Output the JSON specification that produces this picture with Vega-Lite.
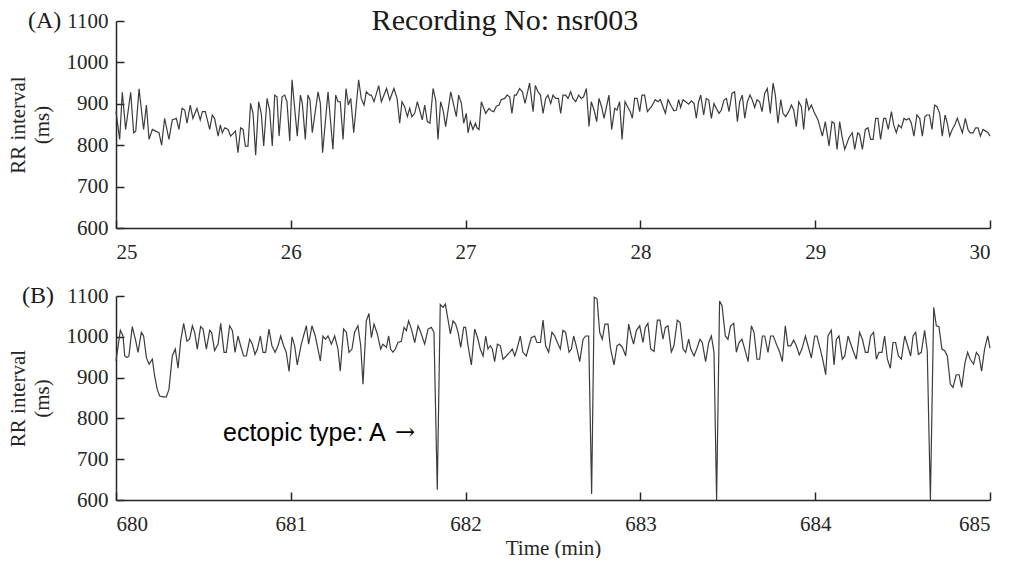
{
"$schema": "https://vega.github.io/schema/vega-lite/v6.json",
"background": "white",
"padding": {"left": 7, "top": 6, "right": 0, "bottom": 0},
"bounds": "flush",
"spacing": 68,
"config": {
  "view": {"stroke": null},
  "font": "Liberation Serif",
  "axis": {"grid": false, "domainColor": "#262626", "domainWidth": 1.5, "tickColor": "#262626", "tickWidth": 1.5, "tickSize": -8, "labelFont": "Liberation Serif", "labelFontSize": 21, "labelColor": "#262626", "titleFont": "Liberation Serif", "titleFontSize": 21, "titleFontWeight": "normal", "titleColor": "#262626"},
  "axisX": {"labelPadding": 21},
  "axisY": {"labelPadding": 16}
},
"datasets": {
"a": [
{"t":25.000,"rr":881},{"t":25.021,"rr":814},{"t":25.036,"rr":928},{"t":25.055,"rr":838},{"t":25.084,"rr":928},{"t":25.101,"rr":830},{"t":25.113,"rr":834},{"t":25.132,"rr":936},{"t":25.158,"rr":838},{"t":25.174,"rr":897},{"t":25.189,"rr":814},{"t":25.208,"rr":838},{"t":25.227,"rr":834},{"t":25.246,"rr":830},{"t":25.261,"rr":800},{"t":25.278,"rr":865},{"t":25.303,"rr":814},{"t":25.322,"rr":861},{"t":25.345,"rr":865},{"t":25.360,"rr":838},{"t":25.378,"rr":889},{"t":25.393,"rr":885},{"t":25.406,"rr":853},{"t":25.425,"rr":897},{"t":25.440,"rr":865},{"t":25.463,"rr":889},{"t":25.482,"rr":861},{"t":25.494,"rr":881},{"t":25.511,"rr":881},{"t":25.536,"rr":838},{"t":25.551,"rr":873},{"t":25.564,"rr":865},{"t":25.584,"rr":822},{"t":25.597,"rr":849},{"t":25.608,"rr":830},{"t":25.622,"rr":842},{"t":25.641,"rr":838},{"t":25.656,"rr":822},{"t":25.683,"rr":834},{"t":25.698,"rr":782},{"t":25.713,"rr":842},{"t":25.727,"rr":838},{"t":25.740,"rr":798},{"t":25.755,"rr":798},{"t":25.770,"rr":901},{"t":25.784,"rr":877},{"t":25.799,"rr":776},{"t":25.816,"rr":905},{"t":25.831,"rr":877},{"t":25.845,"rr":798},{"t":25.864,"rr":913},{"t":25.879,"rr":885},{"t":25.894,"rr":798},{"t":25.908,"rr":921},{"t":25.921,"rr":917},{"t":25.933,"rr":822},{"t":25.950,"rr":917},{"t":25.965,"rr":921},{"t":25.978,"rr":905},{"t":25.994,"rr":810},
{"t":26.007,"rr":958},{"t":26.037,"rr":822},{"t":26.055,"rr":921},{"t":26.066,"rr":901},{"t":26.083,"rr":814},{"t":26.098,"rr":921},{"t":26.110,"rr":909},{"t":26.123,"rr":830},{"t":26.156,"rr":929},{"t":26.169,"rr":901},{"t":26.182,"rr":782},{"t":26.213,"rr":929},{"t":26.241,"rr":790},{"t":26.257,"rr":921},{"t":26.270,"rr":905},{"t":26.283,"rr":905},{"t":26.299,"rr":814},{"t":26.316,"rr":937},{"t":26.329,"rr":897},{"t":26.343,"rr":913},{"t":26.360,"rr":830},{"t":26.388,"rr":958},{"t":26.403,"rr":913},{"t":26.419,"rr":897},{"t":26.432,"rr":929},{"t":26.451,"rr":921},{"t":26.461,"rr":921},{"t":26.476,"rr":905},{"t":26.503,"rr":944},{"t":26.518,"rr":905},{"t":26.548,"rr":937},{"t":26.566,"rr":909},{"t":26.590,"rr":937},{"t":26.608,"rr":913},{"t":26.623,"rr":853},{"t":26.636,"rr":905},{"t":26.651,"rr":893},{"t":26.667,"rr":869},{"t":26.680,"rr":889},{"t":26.693,"rr":869},{"t":26.709,"rr":877},{"t":26.724,"rr":905},{"t":26.737,"rr":885},{"t":26.752,"rr":861},{"t":26.766,"rr":897},{"t":26.781,"rr":857},{"t":26.796,"rr":853},{"t":26.814,"rr":937},{"t":26.829,"rr":909},{"t":26.842,"rr":814},{"t":26.857,"rr":905},{"t":26.871,"rr":885},{"t":26.886,"rr":845},{"t":26.915,"rr":929},{"t":26.947,"rr":869},{"t":26.960,"rr":921},{"t":26.976,"rr":901},{"t":26.989,"rr":853},{"t":27.004,"rr":877},
{"t":27.014,"rr":830},{"t":27.027,"rr":857},{"t":27.042,"rr":838},{"t":27.056,"rr":853},{"t":27.065,"rr":842},{"t":27.077,"rr":838},{"t":27.090,"rr":905},{"t":27.115,"rr":877},{"t":27.134,"rr":889},{"t":27.147,"rr":883},{"t":27.161,"rr":881},{"t":27.176,"rr":894},{"t":27.191,"rr":897},{"t":27.204,"rr":910},{"t":27.224,"rr":913},{"t":27.237,"rr":921},{"t":27.252,"rr":917},{"t":27.265,"rr":877},{"t":27.279,"rr":921},{"t":27.290,"rr":921},{"t":27.309,"rr":937},{"t":27.325,"rr":929},{"t":27.340,"rr":901},{"t":27.366,"rr":950},{"t":27.386,"rr":881},{"t":27.399,"rr":944},{"t":27.414,"rr":929},{"t":27.428,"rr":921},{"t":27.443,"rr":877},{"t":27.458,"rr":913},{"t":27.471,"rr":921},{"t":27.487,"rr":901},{"t":27.500,"rr":921},{"t":27.515,"rr":913},{"t":27.531,"rr":913},{"t":27.544,"rr":877},{"t":27.557,"rr":921},{"t":27.572,"rr":921},{"t":27.586,"rr":913},{"t":27.601,"rr":929},{"t":27.614,"rr":913},{"t":27.630,"rr":905},{"t":27.647,"rr":921},{"t":27.662,"rr":913},{"t":27.675,"rr":917},{"t":27.691,"rr":937},{"t":27.706,"rr":845},{"t":27.719,"rr":905},{"t":27.735,"rr":885},{"t":27.750,"rr":857},{"t":27.763,"rr":913},{"t":27.778,"rr":893},{"t":27.792,"rr":865},{"t":27.820,"rr":921},{"t":27.836,"rr":838},{"t":27.853,"rr":889},{"t":27.866,"rr":885},{"t":27.881,"rr":905},{"t":27.895,"rr":814},{"t":27.912,"rr":905},{"t":27.927,"rr":893},{"t":27.942,"rr":881},{"t":27.954,"rr":865},{"t":27.967,"rr":913},{"t":27.981,"rr":913},{"t":27.996,"rr":881},
{"t":28.009,"rr":921},{"t":28.024,"rr":921},{"t":28.040,"rr":881},{"t":28.063,"rr":893},{"t":28.085,"rr":910},{"t":28.101,"rr":905},{"t":28.114,"rr":910},{"t":28.129,"rr":893},{"t":28.143,"rr":877},{"t":28.158,"rr":910},{"t":28.177,"rr":894},{"t":28.192,"rr":883},{"t":28.206,"rr":885},{"t":28.219,"rr":910},{"t":28.230,"rr":891},{"t":28.244,"rr":910},{"t":28.259,"rr":905},{"t":28.276,"rr":899},{"t":28.291,"rr":907},{"t":28.307,"rr":901},{"t":28.320,"rr":865},{"t":28.333,"rr":905},{"t":28.345,"rr":921},{"t":28.362,"rr":873},{"t":28.377,"rr":913},{"t":28.391,"rr":909},{"t":28.406,"rr":865},{"t":28.421,"rr":901},{"t":28.434,"rr":889},{"t":28.450,"rr":877},{"t":28.463,"rr":885},{"t":28.478,"rr":909},{"t":28.492,"rr":913},{"t":28.507,"rr":881},{"t":28.524,"rr":925},{"t":28.539,"rr":929},{"t":28.555,"rr":857},{"t":28.568,"rr":905},{"t":28.583,"rr":921},{"t":28.597,"rr":865},{"t":28.612,"rr":905},{"t":28.627,"rr":921},{"t":28.640,"rr":909},{"t":28.654,"rr":891},{"t":28.667,"rr":910},{"t":28.682,"rr":905},{"t":28.696,"rr":881},{"t":28.711,"rr":925},{"t":28.726,"rr":937},{"t":28.743,"rr":877},{"t":28.759,"rr":950},{"t":28.772,"rr":921},{"t":28.787,"rr":853},{"t":28.803,"rr":910},{"t":28.816,"rr":877},{"t":28.831,"rr":869},{"t":28.848,"rr":881},{"t":28.864,"rr":897},{"t":28.877,"rr":885},{"t":28.892,"rr":845},{"t":28.906,"rr":905},{"t":28.921,"rr":893},{"t":28.934,"rr":838},{"t":28.949,"rr":913},{"t":28.964,"rr":885},{"t":28.978,"rr":897},{"t":28.993,"rr":881},{"t":29.016,"rr":861},
{"t":29.041,"rr":822},{"t":29.058,"rr":857},{"t":29.079,"rr":798},{"t":29.096,"rr":857},{"t":29.109,"rr":853},{"t":29.125,"rr":790},{"t":29.140,"rr":857},{"t":29.153,"rr":822},{"t":29.169,"rr":790},{"t":29.193,"rr":818},{"t":29.212,"rr":830},{"t":29.226,"rr":790},{"t":29.243,"rr":830},{"t":29.254,"rr":826},{"t":29.270,"rr":790},{"t":29.287,"rr":838},{"t":29.302,"rr":842},{"t":29.317,"rr":814},{"t":29.331,"rr":814},{"t":29.346,"rr":865},{"t":29.359,"rr":865},{"t":29.374,"rr":814},{"t":29.392,"rr":865},{"t":29.403,"rr":865},{"t":29.418,"rr":838},{"t":29.436,"rr":881},{"t":29.449,"rr":849},{"t":29.464,"rr":830},{"t":29.477,"rr":849},{"t":29.493,"rr":842},{"t":29.508,"rr":865},{"t":29.521,"rr":861},{"t":29.537,"rr":865},{"t":29.550,"rr":853},{"t":29.565,"rr":822},{"t":29.582,"rr":873},{"t":29.598,"rr":865},{"t":29.613,"rr":822},{"t":29.628,"rr":869},{"t":29.639,"rr":873},{"t":29.654,"rr":873},{"t":29.668,"rr":838},{"t":29.683,"rr":897},{"t":29.697,"rr":893},{"t":29.712,"rr":877},{"t":29.727,"rr":822},{"t":29.743,"rr":873},{"t":29.756,"rr":853},{"t":29.769,"rr":822},{"t":29.784,"rr":838},{"t":29.798,"rr":849},{"t":29.813,"rr":865},{"t":29.826,"rr":849},{"t":29.842,"rr":830},{"t":29.859,"rr":865},{"t":29.874,"rr":838},{"t":29.887,"rr":830},{"t":29.903,"rr":830},{"t":29.918,"rr":842},{"t":29.931,"rr":842},{"t":29.945,"rr":822},{"t":29.960,"rr":838},{"t":29.975,"rr":834},{"t":29.989,"rr":830},{"t":30.000,"rr":822}
],
"b": [
{"t":680.000,"rr":941},{"t":680.025,"rr":1016},{"t":680.040,"rr":1002},{"t":680.050,"rr":953},{"t":680.063,"rr":949},{"t":680.074,"rr":953},{"t":680.093,"rr":1025},{"t":680.113,"rr":990},{"t":680.126,"rr":962},{"t":680.145,"rr":1011},{"t":680.158,"rr":1002},{"t":680.174,"rr":949},{"t":680.189,"rr":933},{"t":680.208,"rr":945},{"t":680.221,"rr":904},{"t":680.236,"rr":871},{"t":680.250,"rr":855},{"t":680.269,"rr":853},{"t":680.288,"rr":853},{"t":680.303,"rr":871},{"t":680.322,"rr":953},{"t":680.339,"rr":970},{"t":680.355,"rr":923},{"t":680.370,"rr":990},{"t":680.387,"rr":1033},{"t":680.406,"rr":989},{"t":680.421,"rr":994},{"t":680.437,"rr":1027},{"t":680.450,"rr":1011},{"t":680.465,"rr":970},{"t":680.484,"rr":1025},{"t":680.498,"rr":1019},{"t":680.517,"rr":970},{"t":680.536,"rr":1016},{"t":680.547,"rr":1011},{"t":680.564,"rr":966},{"t":680.584,"rr":982},{"t":680.599,"rr":1033},{"t":680.618,"rr":962},{"t":680.631,"rr":962},{"t":680.650,"rr":1027},{"t":680.666,"rr":1015},{"t":680.681,"rr":962},{"t":680.698,"rr":1002},{"t":680.713,"rr":978},{"t":680.730,"rr":953},{"t":680.746,"rr":953},{"t":680.765,"rr":994},{"t":680.780,"rr":982},{"t":680.795,"rr":957},{"t":680.809,"rr":970},{"t":680.826,"rr":1002},{"t":680.841,"rr":962},{"t":680.856,"rr":962},{"t":680.875,"rr":1019},{"t":680.892,"rr":978},{"t":680.910,"rr":962},{"t":680.927,"rr":978},{"t":680.942,"rr":1002},{"t":680.959,"rr":978},{"t":680.974,"rr":962},{"t":680.990,"rr":915},{"t":681.007,"rr":1000},
{"t":681.022,"rr":978},{"t":681.037,"rr":931},{"t":681.060,"rr":982},{"t":681.089,"rr":1027},{"t":681.102,"rr":982},{"t":681.121,"rr":1027},{"t":681.140,"rr":1002},{"t":681.169,"rr":941},{"t":681.184,"rr":1002},{"t":681.198,"rr":994},{"t":681.213,"rr":1002},{"t":681.232,"rr":982},{"t":681.251,"rr":1002},{"t":681.270,"rr":970},{"t":681.283,"rr":916},{"t":681.302,"rr":1019},{"t":681.318,"rr":1011},{"t":681.333,"rr":962},{"t":681.350,"rr":970},{"t":681.365,"rr":1011},{"t":681.384,"rr":1027},{"t":681.400,"rr":978},{"t":681.413,"rr":884},{"t":681.432,"rr":1039},{"t":681.447,"rr":1057},{"t":681.461,"rr":998},{"t":681.476,"rr":1031},{"t":681.495,"rr":1007},{"t":681.514,"rr":970},{"t":681.527,"rr":982},{"t":681.547,"rr":974},{"t":681.560,"rr":1002},{"t":681.571,"rr":970},{"t":681.585,"rr":962},{"t":681.598,"rr":970},{"t":681.613,"rr":986},{"t":681.632,"rr":989},{"t":681.648,"rr":1023},{"t":681.661,"rr":1015},{"t":681.674,"rr":1039},{"t":681.690,"rr":1019},{"t":681.709,"rr":986},{"t":681.728,"rr":1027},{"t":681.743,"rr":1011},{"t":681.766,"rr":982},{"t":681.785,"rr":1019},{"t":681.804,"rr":1023},{"t":681.819,"rr":1011},{"t":681.838,"rr":625},{"t":681.855,"rr":1079},{"t":681.871,"rr":1072},{"t":681.884,"rr":1080},{"t":681.899,"rr":1043},{"t":681.913,"rr":1007},{"t":681.928,"rr":1039},{"t":681.943,"rr":1031},{"t":681.957,"rr":1011},{"t":681.972,"rr":974},{"t":681.989,"rr":1023},{"t":682.000,"rr":1023},
{"t":682.014,"rr":978},{"t":682.033,"rr":931},{"t":682.052,"rr":1019},{"t":682.071,"rr":994},{"t":682.084,"rr":970},{"t":682.100,"rr":953},{"t":682.115,"rr":1002},{"t":682.128,"rr":970},{"t":682.141,"rr":978},{"t":682.153,"rr":970},{"t":682.166,"rr":939},{"t":682.182,"rr":982},{"t":682.199,"rr":978},{"t":682.214,"rr":945},{"t":682.233,"rr":953},{"t":682.252,"rr":962},{"t":682.267,"rr":970},{"t":682.281,"rr":953},{"t":682.294,"rr":970},{"t":682.313,"rr":1002},{"t":682.328,"rr":962},{"t":682.347,"rr":953},{"t":682.363,"rr":978},{"t":682.376,"rr":998},{"t":682.395,"rr":1002},{"t":682.408,"rr":986},{"t":682.428,"rr":986},{"t":682.443,"rr":1041},{"t":682.458,"rr":978},{"t":682.475,"rr":962},{"t":682.494,"rr":1011},{"t":682.510,"rr":1002},{"t":682.525,"rr":986},{"t":682.542,"rr":970},{"t":682.557,"rr":1016},{"t":682.572,"rr":1011},{"t":682.592,"rr":962},{"t":682.605,"rr":970},{"t":682.618,"rr":1002},{"t":682.633,"rr":978},{"t":682.653,"rr":939},{"t":682.672,"rr":994},{"t":682.687,"rr":1002},{"t":682.704,"rr":1002},{"t":682.721,"rr":615},{"t":682.736,"rr":1097},{"t":682.752,"rr":1093},{"t":682.767,"rr":1011},{"t":682.782,"rr":994},{"t":682.797,"rr":1031},{"t":682.815,"rr":1031},{"t":682.828,"rr":974},{"t":682.849,"rr":931},{"t":682.866,"rr":978},{"t":682.881,"rr":982},{"t":682.897,"rr":974},{"t":682.916,"rr":953},{"t":682.933,"rr":1031},{"t":682.948,"rr":1002},{"t":682.961,"rr":982},{"t":682.977,"rr":1016},{"t":682.996,"rr":1027},{"t":683.015,"rr":986},
{"t":683.028,"rr":1023},{"t":683.043,"rr":1033},{"t":683.059,"rr":970},{"t":683.078,"rr":964},{"t":683.097,"rr":1041},{"t":683.112,"rr":1041},{"t":683.129,"rr":994},{"t":683.143,"rr":1023},{"t":683.158,"rr":1027},{"t":683.177,"rr":963},{"t":683.192,"rr":978},{"t":683.211,"rr":1041},{"t":683.227,"rr":1035},{"t":683.244,"rr":970},{"t":683.259,"rr":962},{"t":683.276,"rr":994},{"t":683.288,"rr":970},{"t":683.307,"rr":953},{"t":683.322,"rr":970},{"t":683.341,"rr":994},{"t":683.354,"rr":986},{"t":683.373,"rr":939},{"t":683.391,"rr":986},{"t":683.406,"rr":1002},{"t":683.421,"rr":962},{"t":683.436,"rr":600},{"t":683.453,"rr":1088},{"t":683.467,"rr":1076},{"t":683.486,"rr":1002},{"t":683.501,"rr":994},{"t":683.516,"rr":1027},{"t":683.534,"rr":1033},{"t":683.549,"rr":962},{"t":683.564,"rr":986},{"t":683.581,"rr":994},{"t":683.597,"rr":970},{"t":683.616,"rr":939},{"t":683.635,"rr":1027},{"t":683.650,"rr":1011},{"t":683.667,"rr":945},{"t":683.682,"rr":945},{"t":683.698,"rr":1002},{"t":683.711,"rr":1002},{"t":683.730,"rr":962},{"t":683.745,"rr":1002},{"t":683.760,"rr":1002},{"t":683.778,"rr":982},{"t":683.797,"rr":962},{"t":683.812,"rr":939},{"t":683.829,"rr":1027},{"t":683.844,"rr":978},{"t":683.860,"rr":978},{"t":683.877,"rr":992},{"t":683.892,"rr":978},{"t":683.909,"rr":956},{"t":683.924,"rr":970},{"t":683.944,"rr":1002},{"t":683.959,"rr":978},{"t":683.978,"rr":948},{"t":683.997,"rr":1002},
{"t":684.010,"rr":1002},{"t":684.029,"rr":970},{"t":684.045,"rr":941},{"t":684.060,"rr":907},{"t":684.073,"rr":1002},{"t":684.092,"rr":1016},{"t":684.108,"rr":931},{"t":684.121,"rr":994},{"t":684.136,"rr":1002},{"t":684.155,"rr":945},{"t":684.169,"rr":953},{"t":684.188,"rr":1002},{"t":684.207,"rr":978},{"t":684.220,"rr":962},{"t":684.235,"rr":945},{"t":684.254,"rr":1011},{"t":684.270,"rr":994},{"t":684.287,"rr":962},{"t":684.302,"rr":962},{"t":684.317,"rr":1002},{"t":684.334,"rr":1011},{"t":684.350,"rr":945},{"t":684.365,"rr":962},{"t":684.382,"rr":962},{"t":684.397,"rr":1002},{"t":684.413,"rr":945},{"t":684.430,"rr":923},{"t":684.445,"rr":986},{"t":684.460,"rr":986},{"t":684.476,"rr":953},{"t":684.493,"rr":945},{"t":684.512,"rr":1002},{"t":684.529,"rr":978},{"t":684.546,"rr":953},{"t":684.560,"rr":1002},{"t":684.575,"rr":1011},{"t":684.590,"rr":957},{"t":684.607,"rr":962},{"t":684.626,"rr":1016},{"t":684.641,"rr":966},{"t":684.659,"rr":600},{"t":684.678,"rr":1072},{"t":684.693,"rr":1027},{"t":684.708,"rr":1025},{"t":684.725,"rr":970},{"t":684.741,"rr":966},{"t":684.756,"rr":953},{"t":684.773,"rr":884},{"t":684.788,"rr":876},{"t":684.807,"rr":907},{"t":684.823,"rr":907},{"t":684.838,"rr":876},{"t":684.857,"rr":937},{"t":684.872,"rr":962},{"t":684.887,"rr":945},{"t":684.906,"rr":933},{"t":684.922,"rr":962},{"t":684.937,"rr":953},{"t":684.952,"rr":916},{"t":684.969,"rr":970},{"t":684.987,"rr":1002},{"t":685.000,"rr":972}
]
},
"vconcat": [
{
  "width": 874, "height": 207,
  "layer": [
    {"data": {"name": "a"},
     "mark": {"type": "line", "color": "#3c3c3c", "strokeWidth": 1.2},
     "encoding": {
       "x": {"field": "t", "type": "quantitative", "scale": {"domain": [25, 30], "nice": false, "zero": false},
             "axis": {"values": [25, 26, 27, 28, 29, 30], "format": "d", "title": null}},
       "y": {"field": "rr", "type": "quantitative", "scale": {"domain": [600, 1100], "nice": false, "zero": false},
             "axis": {"values": [600, 700, 800, 900, 1000, 1100], "format": "d", "title": ["RR interval", "(ms)"], "titleLineHeight": 24, "titlePadding": 14}}
     }},
    {"data": {"values": [{}]},
     "mark": {"type": "text", "text": "Recording No: nsr003", "font": "Liberation Serif", "fontSize": 30, "align": "center", "baseline": "middle", "color": "#1a1a1a"},
     "encoding": {"x": {"datum": 27.225, "type": "quantitative"}, "y": {"datum": 1100, "type": "quantitative"}}},
    {"data": {"values": [{}]},
     "mark": {"type": "text", "text": "(A)", "font": "Liberation Serif", "fontSize": 24, "align": "left", "baseline": "middle", "dx": -88, "color": "#1a1a1a"},
     "encoding": {"x": {"datum": 25, "type": "quantitative"}, "y": {"datum": 1100, "type": "quantitative"}}}
  ]
},
{
  "width": 874, "height": 204,
  "layer": [
    {"data": {"name": "b"},
     "mark": {"type": "line", "color": "#3c3c3c", "strokeWidth": 1.2},
     "encoding": {
       "x": {"field": "t", "type": "quantitative", "scale": {"domain": [680, 685], "nice": false, "zero": false},
             "axis": {"values": [680, 681, 682, 683, 684, 685], "format": "d", "title": "Time (min)", "titlePadding": 3}},
       "y": {"field": "rr", "type": "quantitative", "scale": {"domain": [600, 1100], "nice": false, "zero": false},
             "axis": {"values": [600, 700, 800, 900, 1000, 1100], "format": "d", "title": ["RR interval", "(ms)"], "titleLineHeight": 24, "titlePadding": 14}}
     }},
    {"data": {"values": [{}]},
     "mark": {"type": "text", "text": "ectopic type: A", "font": "Liberation Sans", "fontSize": 25, "align": "left", "baseline": "middle", "color": "#000000"},
     "encoding": {"x": {"datum": 680.612, "type": "quantitative"}, "y": {"datum": 763, "type": "quantitative"}}},
    {"data": {"values": [{}]},
     "mark": {"type": "text", "text": "→", "font": "DejaVu Serif", "fontSize": 24, "align": "right", "baseline": "middle", "color": "#000000"},
     "encoding": {"x": {"datum": 681.711, "type": "quantitative"}, "y": {"datum": 763, "type": "quantitative"}}},
    {"data": {"values": [{}]},
     "mark": {"type": "text", "text": "(B)", "font": "Liberation Serif", "fontSize": 24, "align": "left", "baseline": "middle", "dx": -94, "color": "#1a1a1a"},
     "encoding": {"x": {"datum": 680, "type": "quantitative"}, "y": {"datum": 1100, "type": "quantitative"}}}
  ]
}
]
}
